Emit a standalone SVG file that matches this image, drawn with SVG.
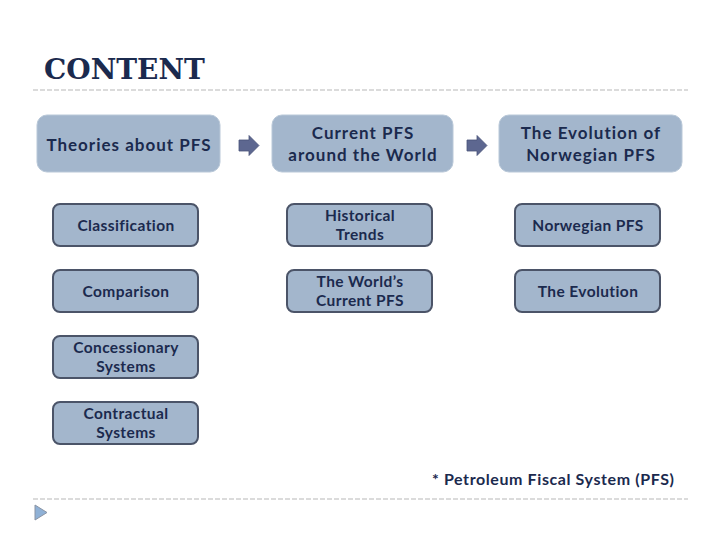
<svg xmlns="http://www.w3.org/2000/svg" width="720" height="540" viewBox="0 0 720 540">
<style>
.bg{fill:#ffffff}
.rule{stroke:#b8b8b8;stroke-width:1.2;stroke-dasharray:5 2;fill:none}
.title{font-family:"DejaVu Serif","Liberation Serif",serif;font-weight:bold;font-size:28px;fill:#1b2a4e}
.main{fill:#a3b6cc;stroke:#b9c8d8;stroke-width:1}
.sub{fill:#a3b6cc;stroke:#4b5468;stroke-width:2}
.t{font-family:Lato,"Open Sans","Liberation Sans",sans-serif;font-weight:bold;fill:#1b2a4e;text-anchor:middle}
.tm{font-size:17px;letter-spacing:1px}
.ts{font-size:15.5px;letter-spacing:0.4px}
.arr{fill:#5d6790;stroke:#4a5378;stroke-width:0.8}
.foot{font-family:Lato,"Open Sans","Liberation Sans",sans-serif;font-weight:bold;font-size:16px;letter-spacing:0.6px;fill:#1b2a4e}
</style>
<rect class="bg" x="0" y="0" width="720" height="540"/>
<text class="title" x="44" y="79">CONTENT</text>
<line class="rule" x1="33" y1="90" x2="688" y2="90"/>
<line class="rule" x1="33" y1="499" x2="688" y2="499"/>

<g id="connectors">
<path class="arr" d="M239,140 H249 V135.5 L259,145.5 L249,155.5 V151 H239 Z"/>
<path class="arr" d="M467,140 H477 V135.5 L487,145.5 L477,155.5 V151 H467 Z"/>
</g>

<g id="theories">
<rect class="main" x="37" y="115" width="183" height="57" rx="10"/>
<text class="t tm" x="129" y="151">Theories about PFS</text>
</g>
<g id="current">
<rect class="main" x="272" y="115" width="181" height="57" rx="10"/>
<text class="t tm" x="363" y="139">Current PFS</text>
<text class="t tm" x="363" y="161">around the World</text>
</g>
<g id="evolution-norway">
<rect class="main" x="499" y="115" width="183" height="57" rx="10"/>
<text class="t tm" x="591" y="139">The Evolution of</text>
<text class="t tm" x="591" y="161">Norwegian PFS</text>
</g>

<g id="classification">
<rect class="sub" x="53" y="204" width="145" height="42" rx="7"/>
<text class="t ts" x="126" y="231">Classification</text>
</g>
<g id="comparison">
<rect class="sub" x="53" y="270" width="145" height="42" rx="7"/>
<text class="t ts" x="126" y="297">Comparison</text>
</g>
<g id="concessionary">
<rect class="sub" x="53" y="336" width="145" height="42" rx="7"/>
<text class="t ts" x="126" y="353">Concessionary</text>
<text class="t ts" x="126" y="372">Systems</text>
</g>
<g id="contractual">
<rect class="sub" x="53" y="402" width="145" height="42" rx="7"/>
<text class="t ts" x="126" y="419">Contractual</text>
<text class="t ts" x="126" y="438">Systems</text>
</g>
<g id="historical">
<rect class="sub" x="287" y="204" width="145" height="42" rx="7"/>
<text class="t ts" x="360" y="221">Historical</text>
<text class="t ts" x="360" y="240">Trends</text>
</g>
<g id="worlds-current">
<rect class="sub" x="287" y="270" width="145" height="42" rx="7"/>
<text class="t ts" x="360" y="287">The World’s</text>
<text class="t ts" x="360" y="306">Current PFS</text>
</g>
<g id="norwegian">
<rect class="sub" x="515" y="204" width="145" height="42" rx="7"/>
<text class="t ts" x="588" y="231">Norwegian PFS</text>
</g>
<g id="the-evolution">
<rect class="sub" x="515" y="270" width="145" height="42" rx="7"/>
<text class="t ts" x="588" y="297">The Evolution</text>
</g>

<text class="foot" x="432" y="485">* Petroleum Fiscal System (PFS)</text>
<path d="M35,505 L47,512.5 L35,520 Z" fill="#8fb1d6" stroke="#8a94a4" stroke-width="1"/>
</svg>
